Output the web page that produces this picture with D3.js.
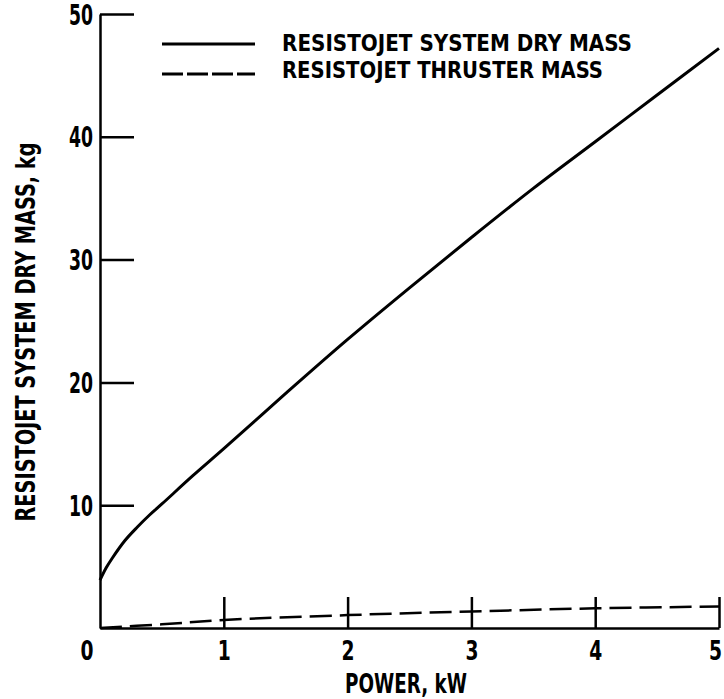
<!DOCTYPE html>
<meta charset="utf-8">
<script src="https://d3js.org/d3.v7.min.js"></script>
<style>
body { margin: 0; background: #fff; }
text {
  fill: #000;
  font-family: "DejaVu Sans Condensed", "Liberation Sans Narrow", sans-serif;
  font-weight: bold;
}
.axis path, .axis line { stroke: #000; stroke-width: 2.5px; }
path.dry { fill: none; stroke: #000; stroke-width: 3px; }
path.thruster { fill: none; stroke: #000; stroke-width: 2.5px; stroke-dasharray: 22,8; }
</style>
<body>
<script>

// power, kW
var powerDry = [0, 0.05, 0.1, 0.2, 0.3, 0.4, 0.5, 0.75, 1, 1.5, 2, 2.5, 3, 3.5, 4, 4.5, 5];
// resistojet system dry mass, kg
var dryMass = [3.9, 4.9, 5.7, 7.1, 8.2, 9.2, 10.1, 12.4, 14.6, 19.1, 23.5, 27.7, 31.8, 35.8, 39.6, 43.4, 47.2];

var powerThruster = [0, 0.5, 1, 2, 3, 4, 5];
var thrusterMass = [0, 0.3, 0.65, 1.05, 1.35, 1.6, 1.75];

var xTicks = [1, 2, 3, 4, 5];
var yTicks = [10, 20, 30, 40, 50];
var legendLabels = ["RESISTOJET SYSTEM DRY MASS", "RESISTOJET THRUSTER MASS"];

var width = 724,
    height = 699;

var x = d3.scaleLinear().domain([0, 5]).range([100, 719]);
var y = d3.scaleLinear().domain([0, 50]).range([628, 14]);

var svg = d3.select("body").append("svg")
    .attr("width", width)
    .attr("height", height);

// x axis, ticks point up into the plot
var gx = svg.append("g")
    .attr("class", "axis")
    .attr("transform", "translate(0," + y(0) + ")")
    .call(d3.axisBottom(x).tickValues(xTicks).tickFormat(d3.format("d"))
      .tickSizeInner(-31).tickSizeOuter(0).tickPadding(0));
gx.selectAll("text")
    .attr("y", 32)
    .attr("dy", 0)
    .attr("x", function(d) { return d === 5 ? -4 : 0; })
    .attr("textLength", 13)
    .attr("lengthAdjust", "spacingAndGlyphs")
    .style("font-size", "26px");

// the lone "0" under the origin
svg.append("text")
    .attr("x", x(0) - 13)
    .attr("y", y(0) + 32)
    .attr("text-anchor", "middle")
    .attr("textLength", 13)
    .attr("lengthAdjust", "spacingAndGlyphs")
    .style("font-size", "26px")
    .text("0");

// y axis, ticks point right
var gy = svg.append("g")
    .attr("class", "axis")
    .attr("transform", "translate(" + x(0) + ",0)")
    .call(d3.axisLeft(y).tickValues(yTicks).tickSizeInner(-34).tickSizeOuter(0).tickPadding(7));
gy.selectAll("text")
    .attr("dy", 10)
    .attr("textLength", 24)
    .attr("lengthAdjust", "spacingAndGlyphs")
    .style("font-size", "28px");

// axis titles
svg.append("text")
    .attr("x", 406)
    .attr("y", 693)
    .attr("text-anchor", "middle")
    .attr("textLength", 122)
    .attr("lengthAdjust", "spacingAndGlyphs")
    .style("font-size", "26px")
    .text("POWER,  kW");

svg.append("text")
    .attr("transform", "translate(35,332) rotate(-90)")
    .attr("text-anchor", "middle")
    .attr("textLength", 379)
    .attr("lengthAdjust", "spacingAndGlyphs")
    .style("font-size", "27px")
    .text("RESISTOJET SYSTEM DRY MASS,  kg");

// curves
var line = d3.line()
    .x(function(d) { return x(d[0]); })
    .y(function(d) { return y(d[1]); })
    .curve(d3.curveCatmullRom.alpha(0.5));

svg.append("path")
    .attr("class", "thruster")
    .attr("d", line(d3.zip(powerThruster, thrusterMass)));

svg.append("path")
    .attr("class", "dry")
    .attr("d", line(d3.zip(powerDry, dryMass)));

// legend
var legend = svg.append("g");
legend.append("line")
    .attr("x1", 162).attr("x2", 255)
    .attr("y1", 44).attr("y2", 44)
    .attr("stroke", "#000").attr("stroke-width", 3);
legend.append("line")
    .attr("x1", 162).attr("x2", 255)
    .attr("y1", 74).attr("y2", 74)
    .attr("stroke", "#000").attr("stroke-width", 3)
    .attr("stroke-dasharray", "21,4");
legend.selectAll("text")
    .data(legendLabels)
    .enter().append("text")
    .attr("x", 282)
    .attr("y", function(d, i) { return 51 + i * 27; })
    .attr("textLength", function(d, i) { return i === 0 ? 350 : 321; })
    .attr("lengthAdjust", "spacingAndGlyphs")
    .style("font-size", "23px")
    .text(function(d) { return d; });

</script>
</body>
